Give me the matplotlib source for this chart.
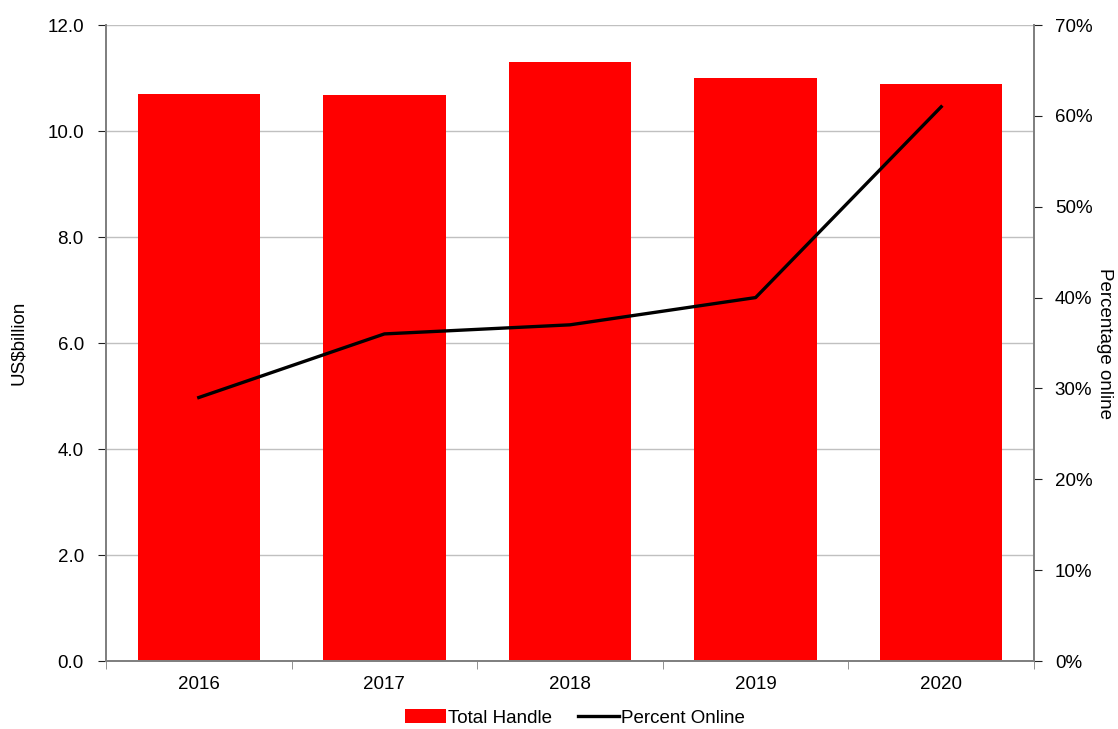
import matplotlib
matplotlib.use('Agg')
import matplotlib.pyplot as plt
import numpy as np
from matplotlib.ticker import FuncFormatter, MultipleLocator, FixedLocator

plt.rcParams['font.family'] = ['Liberation Sans', 'DejaVu Sans']

years = ['2016', '2017', '2018', '2019', '2020']
total_handle = [10.7, 10.67, 11.3, 11.0, 10.88]
percent_online = [29, 36, 37, 40, 61]

x = np.arange(len(years))

fig = plt.figure(figsize=(11.18, 7.29), dpi=100)
ax1 = fig.add_axes([106 / 1118, 1 - 661 / 729, (1034 - 106) / 1118, (661 - 25) / 729])
ax2 = ax1.twinx()

ax1.bar(x, total_handle, width=0.66, color='#ff0000', label='Total Handle', zorder=2)
ax2.plot(x, percent_online, color='black', lw=2.4, label='Percent Online', zorder=3)

ax1.set_xlim(-0.5, len(years) - 0.5)
ax1.set_ylim(0, 12)
ax2.set_ylim(0, 70)

ax1.yaxis.set_major_locator(MultipleLocator(2))
ax1.yaxis.set_major_formatter(FuncFormatter(lambda v, p: f'{v:.1f}'))
ax2.yaxis.set_major_locator(MultipleLocator(10))
ax2.yaxis.set_major_formatter(FuncFormatter(lambda v, p: f'{v:.0f}%'))

fs = 13.5
ax1.set_xticks(x)
ax1.set_xticklabels(years)
ax1.xaxis.set_minor_locator(FixedLocator(np.arange(-0.5, len(years), 1)))
ax1.tick_params(axis='x', which='major', length=0, labelsize=fs, pad=11)
ax1.tick_params(axis='x', which='minor', length=6, color='#808080')
ax1.tick_params(axis='y', length=6, labelsize=fs, color='#202020', pad=10)
ax2.tick_params(axis='y', length=6, labelsize=fs, color='#202020', pad=9)

ax1.grid(axis='y', color='#c0c0c0', lw=1, zorder=0)
ax1.set_axisbelow(True)

for a in (ax1, ax2):
    a.spines['top'].set_visible(False)
    for s in ('left', 'right', 'bottom'):
        a.spines[s].set_color('#808080')
        a.spines[s].set_linewidth(1.3)

ax1.set_ylabel('US$billion', fontsize=fs)
ax1.yaxis.set_label_coords((27 - 106) / 928, 0.5)
ax2.set_ylabel('Percentage online', fontsize=fs, rotation=-90, va='center')
ax2.yaxis.set_label_coords((1104 - 106) / 928, 0.5)

h1, l1 = ax1.get_legend_handles_labels()
h2, l2 = ax2.get_legend_handles_labels()
fig.legend(h1 + h2, l1 + l2, loc='center', bbox_to_anchor=(575 / 1118, 1 - 718 / 729),
           ncol=2, frameon=False, fontsize=fs, handlelength=2.2, handletextpad=0.1,
           columnspacing=1.4)

plt.savefig('out.png', dpi=100)
